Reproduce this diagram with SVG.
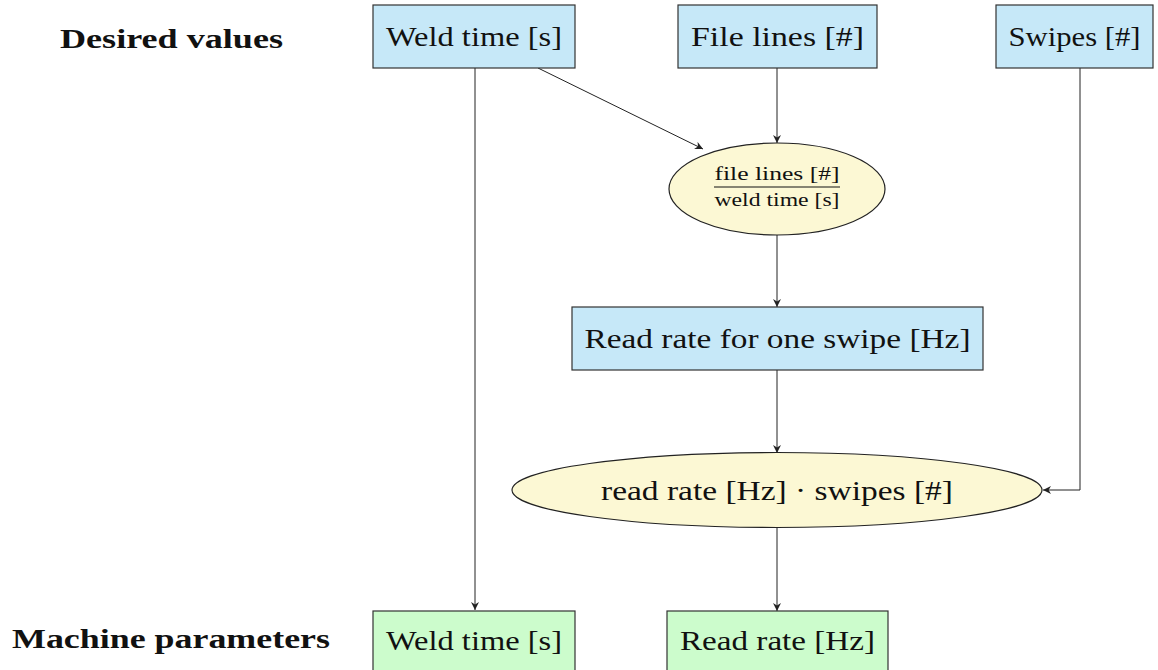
<svg xmlns="http://www.w3.org/2000/svg" width="1158" height="670" viewBox="0 0 1158 670">
<style>
.lbl{font-size:28px;text-anchor:middle;fill:#111;}
.hdr{font-size:28px;font-weight:bold;fill:#111;}
.frac{font-size:19px;text-anchor:middle;fill:#111;}
.blue{fill:#c6e8f8;stroke:#333;stroke-width:1.2;}
.green{fill:#ccfccc;stroke:#333;stroke-width:1.2;}
.yel{fill:#fcf8d4;stroke:#222;stroke-width:1.2;}
.conn{fill:none;stroke:#222;stroke-width:1;marker-end:url(#ah);}
</style>
<defs>
<marker id="ah" viewBox="0 0 10 10" refX="10" refY="5" markerWidth="8" markerHeight="8" markerUnits="userSpaceOnUse" orient="auto">
<path d="M0,0 L10,5 L0,10 L3,5 Z" fill="#222"/>
</marker>
</defs>
<g font-family="Liberation Serif, Times New Roman, serif">
<text class="hdr" x="60" y="48" textLength="223" lengthAdjust="spacingAndGlyphs">Desired values</text>
<text class="hdr" x="12" y="648" textLength="318" lengthAdjust="spacingAndGlyphs">Machine parameters</text>
<g id="connectors">
<path class="conn" d="M475,68 L475,610"/>
<path class="conn" d="M538,68 L703,149"/>
<path class="conn" d="M777,68 L777,143"/>
<path class="conn" d="M777,235 L777,307"/>
<path class="conn" d="M777,370 L777,453"/>
<path class="conn" d="M1080,68 L1080,490 L1043,490"/>
<path class="conn" d="M777,528 L777,611"/>
</g>
<g id="weld-time-desired">
<rect class="blue" x="373" y="5" width="202" height="63"/>
<text class="lbl" x="474" y="46" textLength="176" lengthAdjust="spacingAndGlyphs">Weld time [s]</text>
</g>
<g id="file-lines">
<rect class="blue" x="678" y="5" width="199" height="63"/>
<text class="lbl" x="777.5" y="46" textLength="173" lengthAdjust="spacingAndGlyphs">File lines [#]</text>
</g>
<g id="swipes">
<rect class="blue" x="996" y="5" width="157" height="63"/>
<text class="lbl" x="1074.5" y="46" textLength="132" lengthAdjust="spacingAndGlyphs">Swipes [#]</text>
</g>
<g id="ratio">
<ellipse class="yel" cx="777" cy="189" rx="108" ry="46"/>
<text class="frac" x="777" y="180" textLength="125" lengthAdjust="spacingAndGlyphs">file lines [#]</text>
<line x1="714" y1="187" x2="840" y2="187" stroke="#111" stroke-width="1"/>
<text class="frac" x="777" y="206" textLength="125" lengthAdjust="spacingAndGlyphs">weld time [s]</text>
</g>
<g id="read-rate-one">
<rect class="blue" x="572" y="307" width="411" height="63"/>
<text class="lbl" x="777.5" y="348" textLength="386" lengthAdjust="spacingAndGlyphs">Read rate for one swipe [Hz]</text>
</g>
<g id="product">
<ellipse class="yel" cx="777" cy="490" rx="265" ry="37.5"/>
<text class="lbl" x="777" y="500" textLength="352" lengthAdjust="spacingAndGlyphs">read rate [Hz] · swipes [#]</text>
</g>
<g id="weld-time-machine">
<rect class="green" x="373" y="611" width="202" height="63"/>
<text class="lbl" x="474" y="650" textLength="176" lengthAdjust="spacingAndGlyphs">Weld time [s]</text>
</g>
<g id="read-rate-machine">
<rect class="green" x="667" y="611" width="221" height="63"/>
<text class="lbl" x="777.5" y="650" textLength="195" lengthAdjust="spacingAndGlyphs">Read rate [Hz]</text>
</g>
</g>
</svg>
